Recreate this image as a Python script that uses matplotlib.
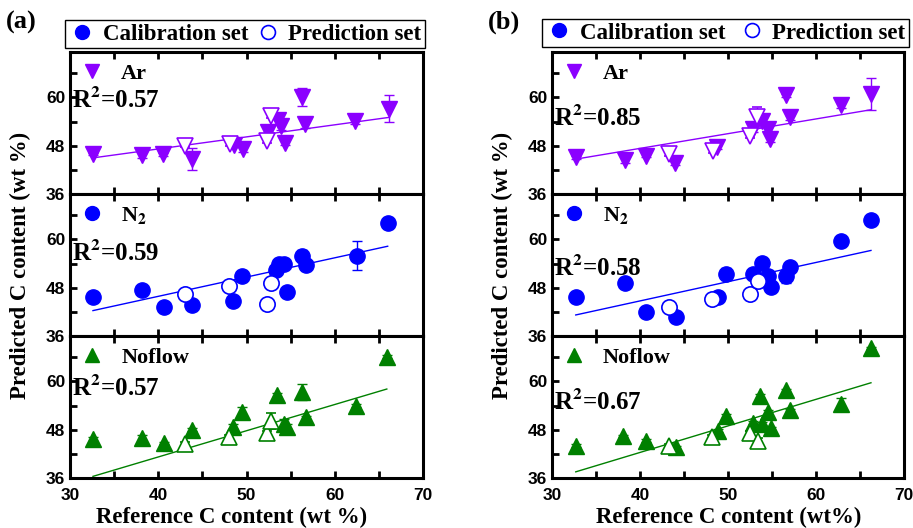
import numpy as np
import matplotlib
matplotlib.use("Agg")
import matplotlib.pyplot as plt
from matplotlib.lines import Line2D

plt.rcParams['font.family'] = 'Liberation Serif'
plt.rcParams['font.weight'] = 'bold'
plt.rcParams['mathtext.fontset'] = 'stix'

PURPLE = '#8B00FF'
BLUE = '#0000FF'
GREEN = '#008000'

# ---- panel (a) ----
a_ar_cal_x = [32.6, 38.1, 40.5, 43.8, 48.6, 49.6, 52.4, 53.6, 53.9, 54.4, 56.3, 56.6, 62.3, 66.1]
a_ar_cal_y = [45.9, 45.8, 45.9, 44.7, 48.3, 47.2, 51.3, 54.4, 52.8, 48.8, 60.1, 53.4, 54.1, 57.2]
a_ar_cal_e = [0.3, 0.8, 0.4, 2.8, 0.6, 0.8, 0.5, 1.0, 0.8, 0.6, 2.2, 1.0, 0.7, 3.3]
a_ar_pre_x = [43.0, 48.1, 52.3, 52.8]
a_ar_pre_y = [48.0, 48.4, 49.3, 55.5]
a_ar_pre_e = [0.4, 0.5, 0.6, 0.7]
a_ar_fit = [0.300, 35.2]

a_n2_cal_x = [32.6, 38.1, 40.6, 43.8, 48.5, 49.5, 53.3, 53.7, 54.2, 54.6, 56.3, 56.7, 62.5, 66.0]
a_n2_cal_y = [45.7, 47.4, 43.3, 43.8, 44.75, 50.9, 52.5, 53.9, 53.9, 47.0, 55.8, 53.6, 56.0, 64.1]
a_n2_cal_e = [0.3, 0.3, 0.3, 0.3, 0.3, 0.3, 0.5, 0.8, 0.5, 0.3, 1.5, 1.2, 3.5, 0.3]
a_n2_pre_x = [43.0, 48.0, 52.3, 52.8]
a_n2_pre_y = [46.5, 48.4, 43.9, 49.1]
a_n2_pre_e = [0.8, 1.0, 0.3, 1.2]
a_n2_fit = [0.479, 26.7]

a_nf_cal_x = [32.6, 38.1, 40.6, 43.8, 48.5, 49.5, 53.4, 54.2, 54.6, 56.3, 56.7, 62.4, 65.9]
a_nf_cal_y = [45.8, 45.9, 44.7, 48.0, 48.8, 52.5, 56.7, 49.4, 48.8, 57.3, 51.1, 54.0, 66.2]
a_nf_cal_e = [0.5, 0.9, 0.3, 0.4, 0.5, 1.2, 0.5, 1.2, 0.5, 2.0, 0.4, 0.4, 0.3]
a_nf_pre_x = [43.0, 48.0, 52.3, 52.8]
a_nf_pre_y = [44.4, 46.1, 47.3, 50.1]
a_nf_pre_e = [0.5, 0.6, 0.5, 2.0]
a_nf_fit = [0.652, 15.15]

# ---- panel (b) ----
b_ar_cal_x = [32.7, 38.3, 40.7, 44.0, 48.8, 52.9, 53.9, 54.5, 54.75, 56.6, 57.0, 62.9, 66.25]
b_ar_cal_y = [45.1, 44.4, 45.5, 43.8, 47.6, 52.2, 54.25, 52.2, 49.7, 60.5, 55.1, 58.25, 60.9]
b_ar_cal_e = [0.3, 0.8, 0.4, 0.5, 0.5, 0.8, 0.6, 0.7, 0.8, 0.3, 0.6, 0.8, 4.0]
b_ar_pre_x = [43.3, 48.3, 52.5, 53.3]
b_ar_pre_y = [45.9, 46.75, 50.5, 55.1]
b_ar_pre_e = [0.5, 0.5, 0.5, 2.5]
b_ar_fit = [0.366, 32.7]

b_n2_cal_x = [32.7, 38.3, 40.7, 44.1, 48.9, 49.8, 52.9, 53.9, 54.5, 54.9, 56.6, 57.0, 62.8, 66.25]
b_n2_cal_y = [45.8, 49.1, 41.9, 40.7, 45.6, 51.4, 51.4, 54.2, 50.9, 48.1, 50.9, 53.2, 59.7, 64.9]
b_n2_cal_e = [0.3, 0.3, 0.3, 0.3, 0.3, 1.5, 0.3, 0.3, 0.3, 0.3, 1.8, 0.5, 1.2, 0.3]
b_n2_pre_x = [43.3, 48.2, 52.5, 53.4]
b_n2_pre_y = [43.1, 45.2, 46.4, 49.7]
b_n2_pre_e = [0.8, 0.8, 0.4, 0.6]
b_n2_fit = [0.478, 25.6]

b_nf_cal_x = [32.7, 38.1, 40.7, 44.1, 48.9, 49.8, 52.9, 53.6, 53.9, 54.5, 54.9, 56.6, 57.0, 62.9, 66.25]
b_nf_cal_y = [44.05, 46.5, 45.3, 43.65, 47.8, 51.4, 49.7, 56.5, 49.5, 52.4, 48.4, 57.8, 52.8, 54.45, 68.3]
b_nf_cal_e = [0.3, 0.3, 0.3, 0.4, 0.4, 0.4, 0.4, 0.5, 0.4, 0.5, 0.4, 0.4, 0.4, 1.5, 0.3]
b_nf_pre_x = [43.3, 48.2, 52.5, 53.4]
b_nf_pre_y = [43.9, 46.1, 47.2, 45.3]
b_nf_pre_e = [0.6, 0.6, 0.6, 0.6]
b_nf_fit = [0.66, 15.95]

r2_a = ['0.57', '0.59', '0.57']
r2_b = ['0.85', '0.58', '0.67']
gas_labels = ['Ar', r'N$_\mathbf{2}$', 'Noflow']
gas_markers = ['v', 'o', '^']
gas_colors = [PURPLE, BLUE, GREEN]


def draw(ax, cx, cy, ce, px, py, pe, fit, color, marker):
    ax.errorbar(cx, cy, yerr=ce, fmt=marker, color=color, ms=11, elinewidth=1,
                capsize=3.5, capthick=1, zorder=3)
    ax.errorbar(px, py, yerr=pe, fmt=marker, color=color, mfc='white', mec=color,
                mew=1.2, ms=11, elinewidth=1, capsize=3.5, capthick=1, zorder=3)
    xs = np.array([min(cx), max(cx)])
    ax.plot(xs, fit[0] * xs + fit[1], color=color, lw=1, zorder=2)


def style(ax, last):
    ax.set_xlim(30, 70)
    ax.set_ylim(36, 71.3)
    ax.set_xticks([30, 40, 50, 60, 70])
    ax.set_xticks([35, 45, 55, 65], minor=True)
    ax.set_yticks([36, 48, 60])
    ax.set_yticks([42, 54, 66], minor=True)
    ax.tick_params(which='both', direction='in', top=True, right=False,
                   length=5, width=2)
    ax.tick_params(axis='x', pad=7)
    for s in ax.spines.values():
        s.set_linewidth(2.2)
    for lab in ax.get_xticklabels() + ax.get_yticklabels():
        lab.set_fontfamily('Liberation Sans')
        lab.set_fontweight('bold')
        lab.set_fontsize(12.5)
    if not last:
        ax.tick_params(labelbottom=False)


fig = plt.figure(figsize=(9.13, 5.28), dpi=100)
gs_a = fig.add_gridspec(3, 1, left=0.0767, right=0.4633, top=0.9015, bottom=0.0947, hspace=0)
gs_b = fig.add_gridspec(3, 1, left=0.6046, right=0.9901, top=0.9015, bottom=0.0947, hspace=0)

sets_a = [
    (a_ar_cal_x, a_ar_cal_y, a_ar_cal_e, a_ar_pre_x, a_ar_pre_y, a_ar_pre_e, a_ar_fit),
    (a_n2_cal_x, a_n2_cal_y, a_n2_cal_e, a_n2_pre_x, a_n2_pre_y, a_n2_pre_e, a_n2_fit),
    (a_nf_cal_x, a_nf_cal_y, a_nf_cal_e, a_nf_pre_x, a_nf_pre_y, a_nf_pre_e, a_nf_fit),
]
sets_b = [
    (b_ar_cal_x, b_ar_cal_y, b_ar_cal_e, b_ar_pre_x, b_ar_pre_y, b_ar_pre_e, b_ar_fit),
    (b_n2_cal_x, b_n2_cal_y, b_n2_cal_e, b_n2_pre_x, b_n2_pre_y, b_n2_pre_e, b_n2_fit),
    (b_nf_cal_x, b_nf_cal_y, b_nf_cal_e, b_nf_pre_x, b_nf_pre_y, b_nf_pre_e, b_nf_fit),
]
r2_ya = [0.66, 0.58, 0.63]
r2_yb = [0.53, 0.48, 0.53]

for gs, sets, r2, r2_y, tag, xlab, xl_x, leg_box in [
        (gs_a, sets_a, r2_a, r2_ya, '(a)', 'Reference C content (wt %)', 0.254,
         (65 / 913, 1 - 50 / 528, 360 / 913, 32 / 528)),
        (gs_b, sets_b, r2_b, r2_yb, '(b)', 'Reference C content (wt%)', 0.798,
         (542 / 913, 1 - 51 / 528, 367 / 913, 36 / 528))]:
    axes = []
    for i in range(3):
        ax = fig.add_subplot(gs[i, 0])
        cx, cy, ce, px, py, pe, fit = sets[i]
        draw(ax, cx, cy, ce, px, py, pe, fit, gas_colors[i], gas_markers[i])
        style(ax, i == 2)
        h = Line2D([], [], marker=gas_markers[i], ls='none', color=gas_colors[i], ms=10)
        ax.legend([h], [gas_labels[i]], loc='upper left', frameon=False,
                  handlelength=1.0, handletextpad=0.8, borderaxespad=0.2, borderpad=0.3,
                  prop={'size': 16, 'weight': 'bold'})
        ax.text(0.005, r2_y[i], 'R$^\\mathbf{2}$=' + r2[i], transform=ax.transAxes,
                fontsize=18, fontweight='bold', ha='left', va='center')
        axes.append(ax)
    h1 = Line2D([], [], marker='o', ls='none', color=BLUE, ms=10)
    h2 = Line2D([], [], marker='o', ls='none', color=BLUE, mfc='white', mew=1.2, ms=10)
    fig.legend([h1, h2], ['Calibration set', 'Prediction set'], loc='center',
               bbox_to_anchor=leg_box, mode='expand', ncol=2, fancybox=False,
               edgecolor='black', framealpha=1, borderpad=0.15, borderaxespad=0,
               handletextpad=0.3, columnspacing=0.5, handlelength=1.2,
               prop={'size': 16.5, 'weight': 'bold'}).get_frame().set_linewidth(1)
    pos = axes[0].get_position()
    fig.text(pos.x0 - 0.054, 0.5 * (0.9015 + 0.0947), 'Predicted C content (wt %)',
             rotation=90, ha='center', va='center', fontsize=16.5, fontweight='bold')
    fig.text(xl_x, 1 - 517 / 528, xlab, ha='center', va='center', fontsize=16.5, fontweight='bold')
    fig.text(pos.x0 - 0.07, 1 - 22 / 528, tag, ha='left', va='center', fontsize=19, fontweight='bold')

fig.savefig('out.png', dpi=100)
